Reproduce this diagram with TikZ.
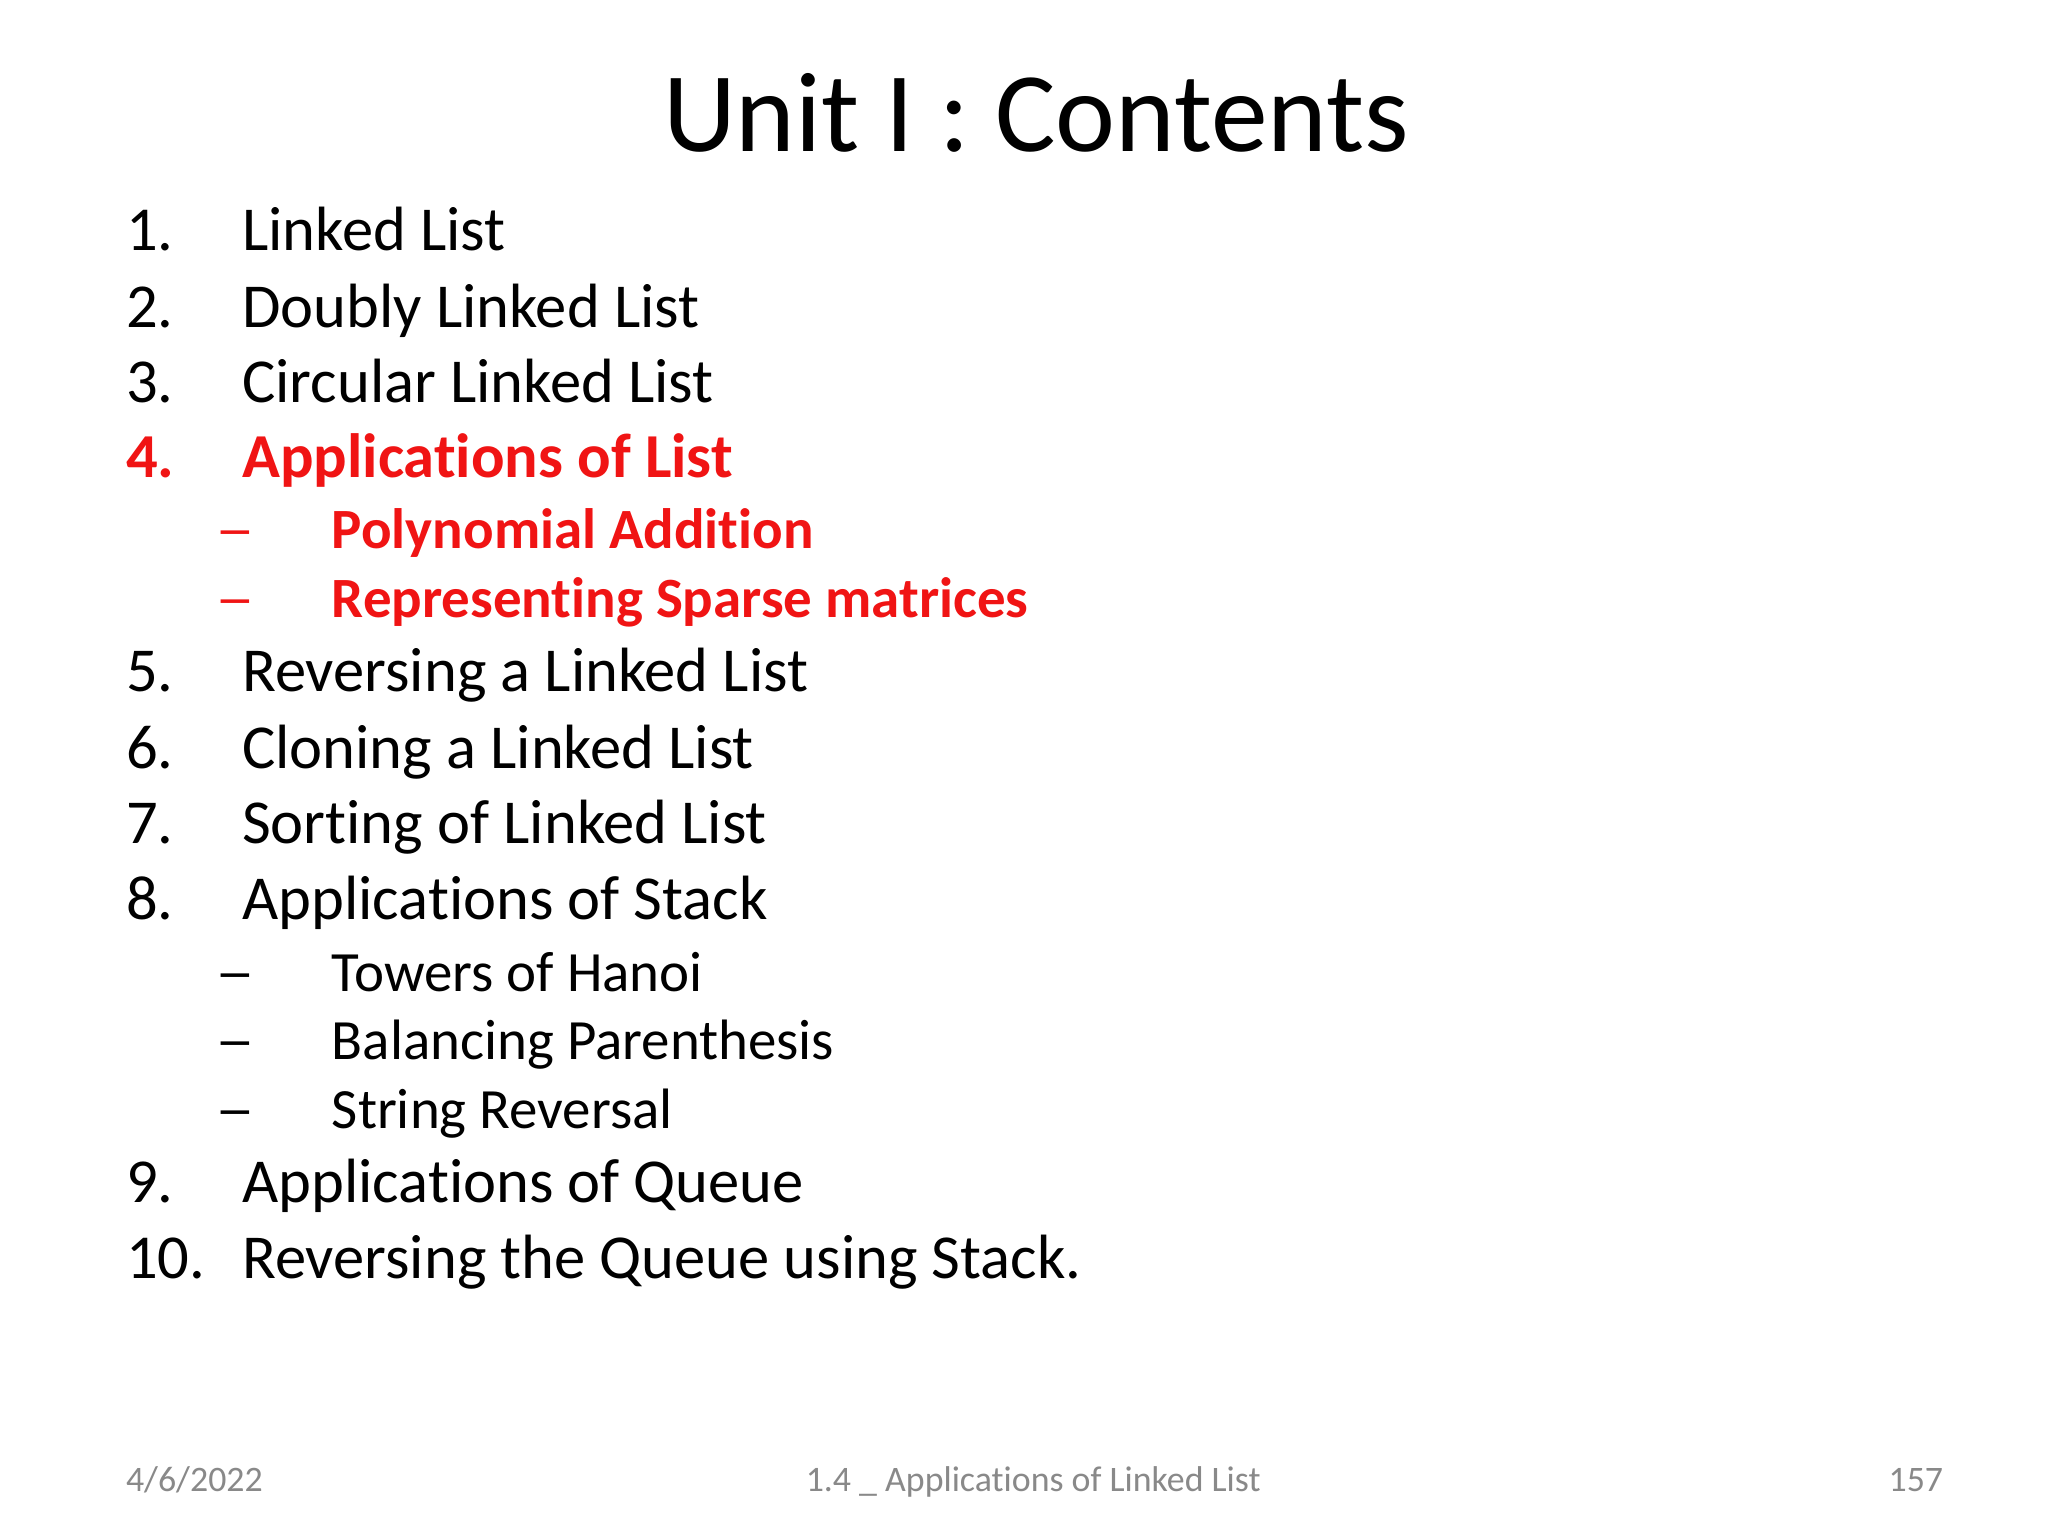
\documentclass[tikz,border=0pt]{standalone}
\usepackage{fontspec}
\setmainfont[RawFeature=-liga]{Carlito}
\definecolor{hired}{RGB}{240,20,20}
\definecolor{foot}{RGB}{137,137,137}
\newcommand{\mydash}{\scalebox{1.4}[1]{–}}
\begin{document}
\begin{tikzpicture}[x=0.0132cm,y=-0.0132cm,
  item/.style={anchor=base west,inner sep=0pt,font=\fontsize{17.8}{21}\selectfont},
  sub/.style={anchor=base west,inner sep=0pt,font=\fontsize{16.2}{19}\selectfont},
  ft/.style={inner sep=0pt,text=foot,font=\fontsize{10.2}{12}\selectfont}]
\useasboundingbox[fill=white] (0,0) rectangle (1552,1164);
\node[anchor=base,inner sep=0pt,font=\fontsize{32.3}{38}\selectfont] (title) at (785,115) {Unit I : Contents};
\foreach \n/\t/\y [count=\i] in {1./Linked List/190,2./Doubly Linked List/248,3./Circular Linked List/305,5./Reversing a Linked List/524,6./Cloning a Linked List/582,7./Sorting of Linked List/639,8./Applications of Stack/697,9./Applications of Queue/911,10./Reversing the Queue using Stack./969}{
  \node[item] (n\i) at (95,\y) {\n};
  \node[item] (t\i) at (183,\y) {\t};
}
\node[item,text=hired,font=\fontsize{17.8}{21}\selectfont\bfseries] (n4) at (95,362) {4.};
\node[item,text=hired,font=\fontsize{17.8}{21}\selectfont\bfseries] (t4) at (183,362) {Applications of List};
\foreach \t/\y [count=\i] in {Polynomial Addition/416,Representing Sparse matrices/468}{
  \node[sub,text=hired] (ra\i) at (163,\y) {\mydash};
  \node[sub,text=hired,font=\fontsize{16.2}{19}\selectfont\bfseries] (rb\i) at (251,\y) {\t};
}
\foreach \t/\y [count=\i] in {Towers of Hanoi/751,Balancing Parenthesis/803,String Reversal/855}{
  \node[sub] (sa\i) at (163,\y) {\mydash};
  \node[sub] (sb\i) at (251,\y) {\t};
}
\node[ft,anchor=base west] (date) at (95,1130) {4/6/2022};
\node[ft,anchor=base] (mid) at (783,1130) {1.4 \_ Applications of Linked List};
\node[ft,anchor=base east] (num) at (1473,1130) {157};
\end{tikzpicture}
\end{document}
